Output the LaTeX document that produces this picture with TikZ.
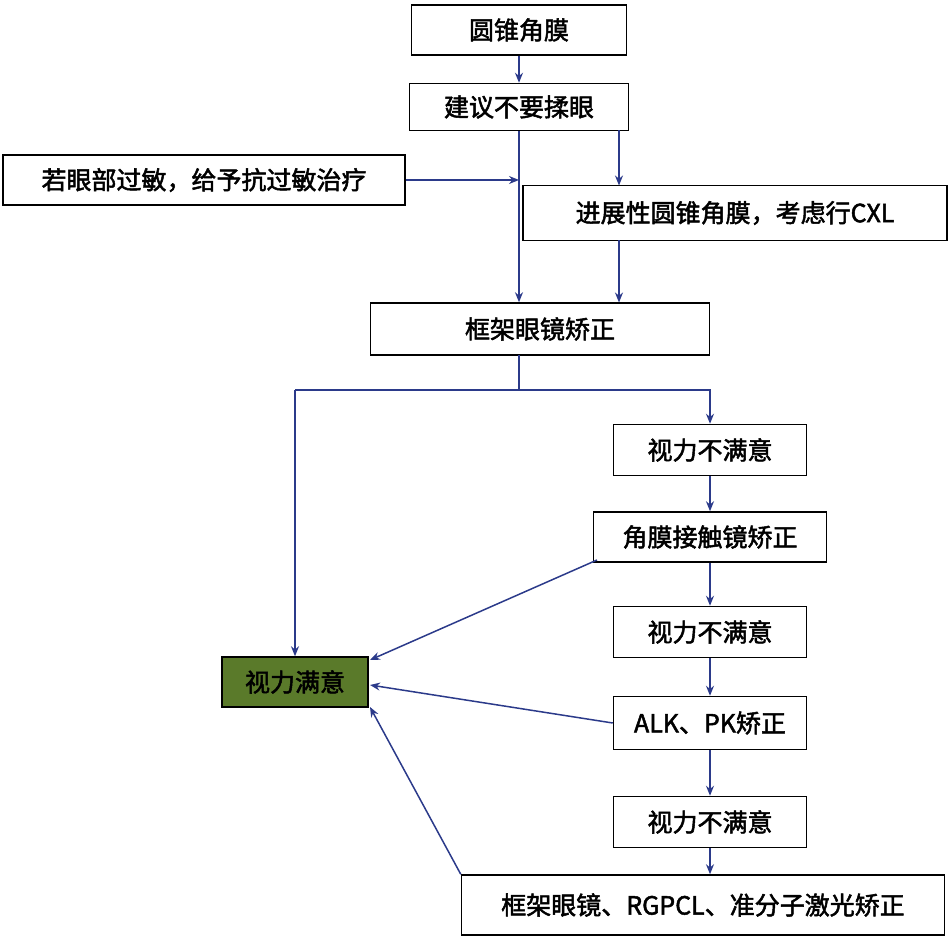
\documentclass[tikz,border=0pt]{standalone}
\usepackage{fontspec}
\newfontfamily\cjk{Noto Sans CJK SC}[FakeBold=2]
\usetikzlibrary{arrows.meta}
\definecolor{ln}{HTML}{2B3A8A}
\definecolor{gr}{HTML}{5A7A2A}
\begin{document}
\begin{tikzpicture}[x=1pt,y=-1pt,
  box/.style={draw=black,line width=1.5pt,fill=white,inner sep=0pt,font=\cjk\fontsize{25}{28}\selectfont},
  ar/.style={draw=ln,line width=1.5pt,-{Stealth[length=10pt,width=8pt]}},
  ln/.style={draw=ln,line width=1.5pt}]
\useasboundingbox (0,0) rectangle (951,944);
\node[box,minimum width=215,minimum height=50] (a) at (519,30) {圆锥角膜};
\node[box,minimum width=219,minimum height=47] (b) at (519,107) {建议不要揉眼};
\node[box,minimum width=402,minimum height=50] (c) at (204,180) {若眼部过敏，给予抗过敏治疗};
\node[box,minimum width=424,minimum height=55] (d) at (735,213) {进展性圆锥角膜，考虑行CXL};
\node[box,minimum width=339,minimum height=52] (e) at (540,329) {框架眼镜矫正};
\node[box,minimum width=193,minimum height=51] (f) at (710,450) {视力不满意};
\node[box,minimum width=233,minimum height=50] (g) at (710,537) {角膜接触镜矫正};
\node[box,minimum width=193,minimum height=51] (h) at (710,632) {视力不满意};
\node[box,fill=gr,minimum width=146,minimum height=50] (s) at (295,682) {视力满意};
\node[box,minimum width=193,minimum height=53] (i) at (710,723) {ALK、PK矫正};
\node[box,minimum width=193,minimum height=51] (j) at (710,822) {视力不满意};
\node[box,minimum width=483,minimum height=60] (k) at (703,905) {框架眼镜、RGPCL、准分子激光矫正};
\coordinate (m) at (519,180);
\coordinate (t) at (519,390);
\draw[ar] (a) -- (b);
\draw[ar] (b.south) -- (b.south |- e.north);
\draw[ar] (c.east) -- (m);
\draw[ar] (619,130.5) -- (619,185.5);
\draw[ar] (619,240.5) -- (619,302.5);
\draw[ln] (519,355) -- (t);
\draw[ar] (295,390) -- (710,390) -- (f.north);
\draw[ar] (295,390) -- (s.north);
\draw[ar] (f) -- (g);
\draw[ar] (g) -- (h);
\draw[ar] (h) -- (i);
\draw[ar] (i) -- (j);
\draw[ar] (j.south) -- (j.south |- k.north);
\draw[ar] (597,560) -- (370,660);
\draw[ar] (i.west) -- (370,685);
\draw[ar] (k.north west) -- (370,707);
\end{tikzpicture}
\end{document}
